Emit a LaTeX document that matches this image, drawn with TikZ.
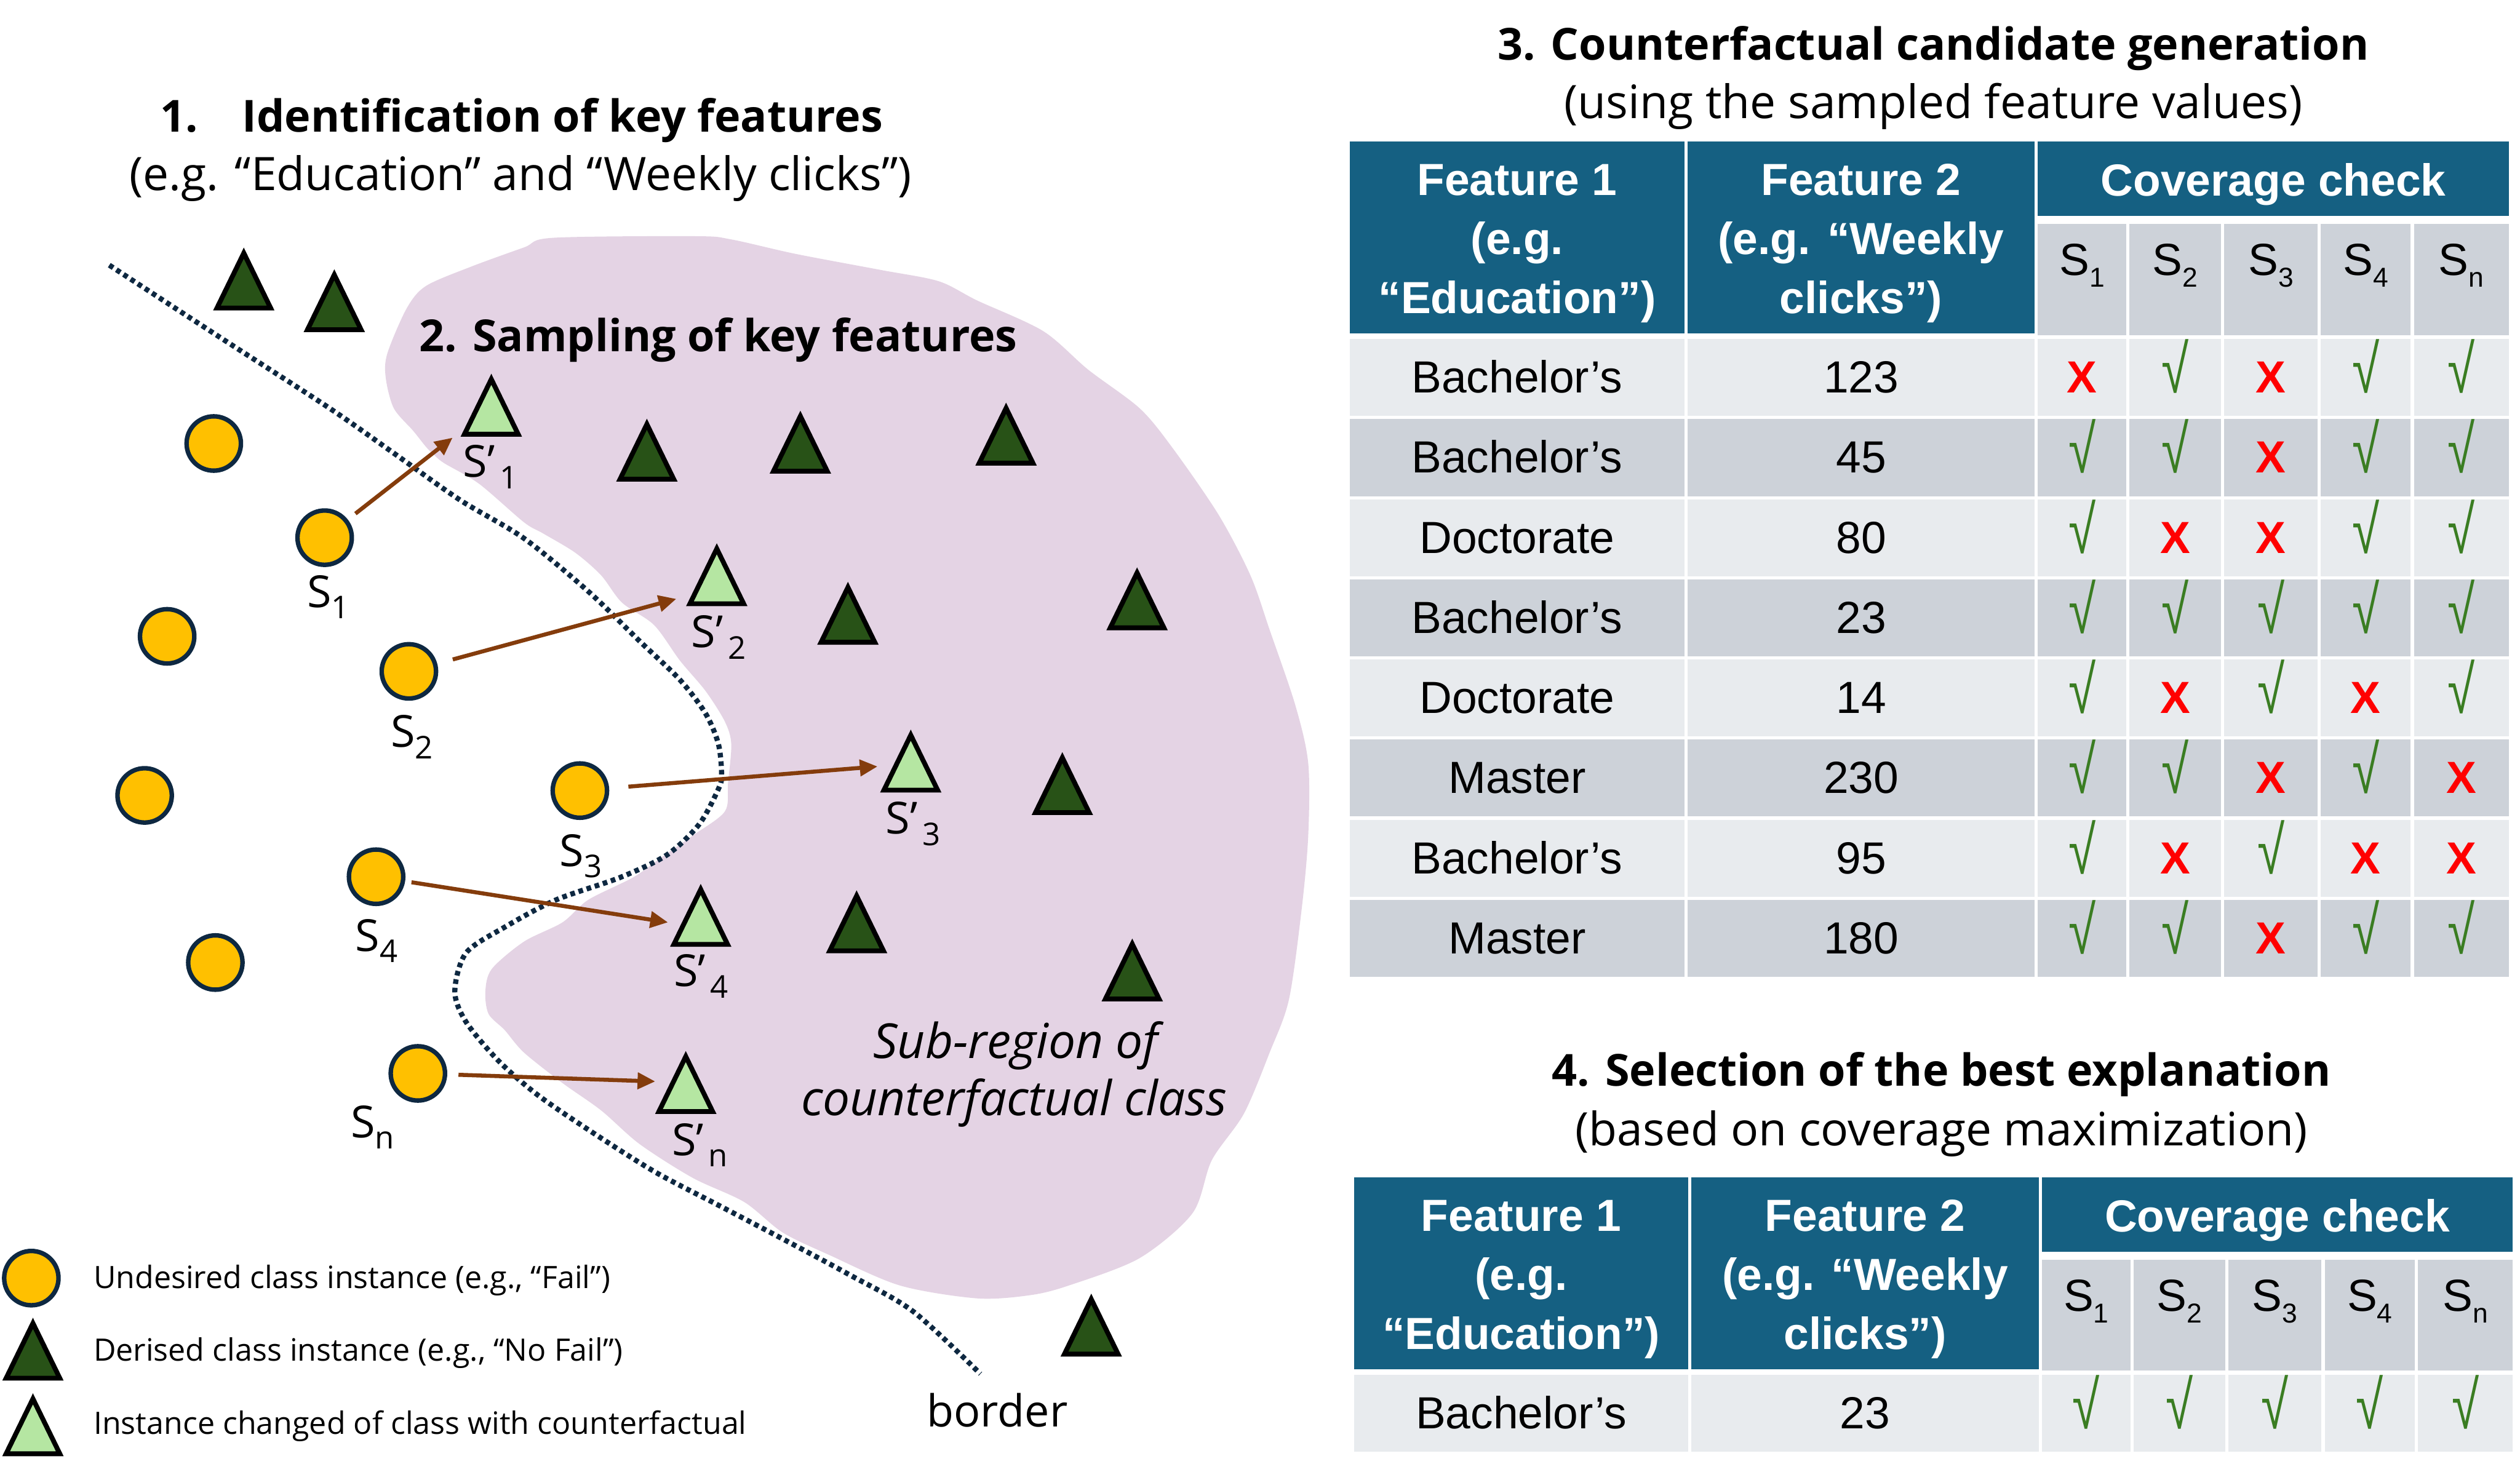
\documentclass[tikz,border=0pt]{standalone}
\usepackage{fontspec}
\setmainfont{Open Sans}
\newfontfamily\arialf{Liberation Sans}
\usetikzlibrary{arrows.meta}
\definecolor{hdr}{HTML}{156082}
\definecolor{rowA}{HTML}{E8EBEE}
\definecolor{rowB}{HTML}{CDD2D9}
\definecolor{blob}{HTML}{E4D3E4}
\definecolor{yel}{HTML}{FFC000}
\definecolor{navy}{HTML}{0E2841}
\definecolor{dgreen}{HTML}{285217}
\definecolor{lgreen}{HTML}{B5E6A2}
\definecolor{arrbrown}{HTML}{843C0C}
\definecolor{okgreen}{HTML}{3A7D22}
\definecolor{nored}{HTML}{FF0000}
\newcommand\tsz{\fontsize{27.5}{33}\selectfont}
\newcommand\ssz{\fontsize{28.7}{34}\selectfont}
\newcommand\isz{\fontsize{30}{36}\selectfont}
\newcommand\asz{\arialf\fontsize{28}{34}\selectfont}
\newcommand\lsz{\fontsize{19.2}{23}\selectfont}
\newcommand\slab[1]{S\raisebox{-7pt}{\fontsize{19.5}{20}\selectfont #1}}
\newcommand\splab[1]{S’\hspace{3pt}\raisebox{-7pt}{\fontsize{19.5}{20}\selectfont #1}}
\newcommand\tslab[1]{S\raisebox{-7.4pt}{\fontsize{17}{17}\selectfont #1}}
\newcommand\cmok{\textcolor{okgreen}{\scalebox{1.1}[1.5]{√}}}
\newcommand\cmno{\textcolor{nored}{\bfseries X}}
\tikzset{
  ucirc/.style={circle, fill=yel, draw=navy, line width=2.8pt, minimum size=33.8pt, inner sep=0pt},
  arr/.style={draw=arrbrown, line width=2.5pt, -{Triangle[length=11pt,width=10pt]}},
  bord/.style={draw=navy, line width=3.2pt, dash pattern=on 2.9pt off 2.4pt},
  ttl/.style={font=\bfseries\tsz, anchor=base, inner sep=0pt},
  subt/.style={font=\ssz, anchor=base, inner sep=0pt},
  lbl/.style={font=\tsz, anchor=base west, inner sep=0pt},
  leg/.style={font=\lsz, anchor=base west, inner sep=0pt},
  hcell/.style={font=\asz\bfseries, text=white, anchor=base, inner sep=0pt},
  cell/.style={font=\asz, anchor=base, inner sep=0pt},
  dtri/.pic={\path[fill=dgreen, draw=black, line width=3pt] (-16.7,17.7) -- (0,-16.5) -- (16.7,17.7) -- cycle;},
  ltri/.pic={\path[fill=lgreen, draw=black, line width=3pt] (-16.7,17.7) -- (0,-16.5) -- (16.7,17.7) -- cycle;}
}
\newcommand\tblhead[1]{%
  \fill[hdr] (840,88) rectangle (1048,207.5);
  \fill[hdr] (1050,88) rectangle (1266,207.5);
  \fill[hdr] (1268,88) rectangle (1561,134.5);
  \foreach \L/\R in {1268/1323,1325/1382,1384/1442,1444/1500,1502/1561}{\fill[rowB] (\L,139.5) rectangle (\R,208.5);}
  \node[hcell] (#1fa1) at (944,121.6) {Feature 1};
  \node[hcell] (#1fa2) at (944,158.3) {(e.g.};
  \node[hcell] (#1fa3) at (944,195) {“Education”)};
  \node[hcell] (#1fb1) at (1158,121.6) {Feature 2};
  \node[hcell] (#1fb2) at (1158,158.3) {(e.g. “Weekly};
  \node[hcell] (#1fb3) at (1158,195) {clicks”)};
  \node[hcell] (#1cov) at (1414.5,121.9) {Coverage check};
  \foreach \x/\s [count=\k] in {1295.5/1,1353.5/2,1413/3,1472/4,1531.5/n}{\node[cell] (#1s\k) at (\x,171.3) {\tslab{\s}};}
}
\newcommand\tblrow[6]{%
  \pgfmathsetmacro\myrt{211+(#2-1)*49.85}
  \pgfmathsetmacro\myrb{\myrt+47.9}
  \pgfmathsetmacro\mybase{\myrt+24+9.5}
  \fill[#3] (840,\myrt) rectangle (1048,\myrb);
  \fill[#3] (1050,\myrt) rectangle (1266,\myrb);
  \foreach \L/\R in {1268/1323,1325/1382,1384/1442,1444/1500,1502/1561}{\fill[#3] (\L,\myrt) rectangle (\R,\myrb);}
  \node[cell] (#1r#2a) at (944,\mybase) {#4};
  \node[cell] (#1r#2b) at (1158,\mybase) {#5};
  \foreach \m [count=\k] in {#6}{%
    \pgfmathsetmacro\cx{{1295.5,1353.5,1413,1472,1531.5}[\k-1]}
    \node[cell] (#1r#2c\k) at (\cx,\mybase) {\ifnum\m=1 \cmok\else\cmno\fi};
  }
}
\begin{document}
\begin{tikzpicture}[x=1pt,y=-1pt]
\useasboundingbox (0,0) rectangle (1568,916);
\fill[white] (0,0) rectangle (1568,916);
% blob
\fill[blob] plot[smooth cycle, tension=0.5] coordinates {
(326,154) (344,148) (433,147) (455,149) (495,158) (548,168) (584,175) (608,187) (649,206) (677,230) (709,254) (729,278) (758,320) (778,358) (790,392) (806,439) (814,475) (814,520) (810,565) (802,622) (790,655) (774,693) (754,722) (742,755) (709,783) (665,800) (641,806) (608,808) (560,800) (516,781) (487,767) (463,748) (431,733) (398,712) (374,691) (350,674) (326,655) (314,641) (304,631) (302,617) (306,603) (326,586) (350,574) (366,560) (394,546) (411,534) (431,520) (451,505) (453,487) (455,463) (451,449) (439,430) (423,411) (407,389) (387,375) (374,358) (358,344) (338,332) (326,325) (298,301) (276,288) (269,282) (265,278) (257,268) (245,254) (240,235) (241,220) (253,192) (265,178) (293,166)};
% border
\draw[bord] plot[smooth, tension=0.5] coordinates {(68,165) (137,210) (205,254) (245,282) (286,311) (326,335) (366,368) (398,399) (423,423) (439,444) (447,463) (449,482) (447,491) (435,513) (415,532) (386,546) (346,560) (314,577) (290,593) (283,617) (290,636) (310,660) (334,681) (366,703) (407,729) (447,750) (487,771) (528,793) (568,816) (610,855)};
% titles
\node[ttl] (title1) at (324.5,82) {1.\hspace{1em}Identification of key features};
\node[subt] (title1b) at (324,118.5) {(e.g. “Education” and “Weekly clicks”)};
\node[ttl] (title2) at (447,218.6) {2. Sampling of key features};
\node[ttl] (title3) at (1203,37.2) {3. Counterfactual candidate generation};
\node[subt] (title3b) at (1203,73.8) {(using the sampled feature values)};
\node[ttl] (title4) at (1208,676) {4. Selection of the best explanation};
\node[subt] (title4b) at (1208,713) {(based on coverage maximization)};
\node[subt, font=\itshape\isz] (subr1) at (632,658.7) {Sub-region of};
\node[subt, font=\itshape\isz] (subr2) at (631,694.3) {counterfactual class};
\node[ttl, font=\tsz] (bordlbl) at (620.5,888) {border};
% dark triangles
\foreach \x/\y in {151.7/174,208/187.5,402.5/280.5,498/275.5,626/270.5,527.6/382,707.5/373,661/488,533/574,704.5/604,679/825}{\pic at (\x,\y) {dtri};}
% light triangles
\foreach \x/\y in {305.7/252.5,446/358,566.7/474,436/570,426.7/674}{\pic at (\x,\y) {ltri};}
% circles
\node[ucirc] (c1) at (133,276) {};
\node[ucirc] (s1) at (202,334.6) {};
\node[ucirc] (c2) at (104,396) {};
\node[ucirc] (s2) at (254.4,417.8) {};
\node[ucirc] (c3) at (90,495) {};
\node[ucirc] (s3) at (360.8,492) {};
\node[ucirc] (s4) at (234,545.6) {};
\node[ucirc] (c4) at (134,599) {};
\node[ucirc] (sn) at (260,668) {};
% labels
\node[lbl] (ls1) at (191,378) {\slab{1}};
\node[lbl] (ls2) at (243,465) {\slab{2}};
\node[lbl] (ls3) at (348,539) {\slab{3}};
\node[lbl] (ls4) at (221,592) {\slab{4}};
\node[lbl] (lsn) at (218,708) {\slab{n}};
\node[lbl] (lp1) at (288,297) {\splab{1}};
\node[lbl] (lp2) at (430,403) {\splab{2}};
\node[lbl] (lp3) at (551,519) {\splab{3}};
\node[lbl] (lp4) at (419,614) {\splab{4}};
\node[lbl] (lpn) at (418,719) {\splab{n}};
% arrows
\coordinate (tip1) at (281.6,272.4);
\coordinate (tip2) at (420.8,372.7);
\coordinate (tip3) at (546,477);
\coordinate (tip4) at (415.6,574);
\coordinate (tipn) at (407.7,673);
\draw[arr, shorten <=6pt] (s1) -- (tip1);
\draw[arr, shorten <=10pt] (s2) -- (tip2);
\draw[arr, shorten <=12pt] (s3) -- (tip3);
\draw[arr, shorten <=4pt] (s4) -- (tip4);
\draw[arr, shorten <=7pt] (sn) -- (tipn);
% legend
\node[ucirc] (legc) at (19.5,795.4) {};
\pic at (20.5,840) {dtri};
\pic at (20.5,887) {ltri};
\node[leg] (leg1) at (58,801.8) {Undesired class instance (e.g., “Fail”)};
\node[leg] (leg2) at (58,847) {Derised class instance (e.g., “No Fail”)};
\node[leg] (leg3) at (58,892.4) {Instance changed of class with counterfactual};
% table 1
\tblhead{ta}
\tblrow{ta}{1}{rowA}{Bachelor’s}{123}{0,1,0,1,1}
\tblrow{ta}{2}{rowB}{Bachelor’s}{45}{1,1,0,1,1}
\tblrow{ta}{3}{rowA}{Doctorate}{80}{1,0,0,1,1}
\tblrow{ta}{4}{rowB}{Bachelor’s}{23}{1,1,1,1,1}
\tblrow{ta}{5}{rowA}{Doctorate}{14}{1,0,1,0,1}
\tblrow{ta}{6}{rowB}{Master}{230}{1,1,0,1,0}
\tblrow{ta}{7}{rowA}{Bachelor’s}{95}{1,0,1,0,0}
\tblrow{ta}{8}{rowB}{Master}{180}{1,1,0,1,1}
% table 2
\begin{scope}[shift={(2.5,644.5)}]
\tblhead{tb}
\tblrow{tb}{1}{rowA}{Bachelor’s}{23}{1,1,1,1,1}
\end{scope}
\end{tikzpicture}
\end{document}
